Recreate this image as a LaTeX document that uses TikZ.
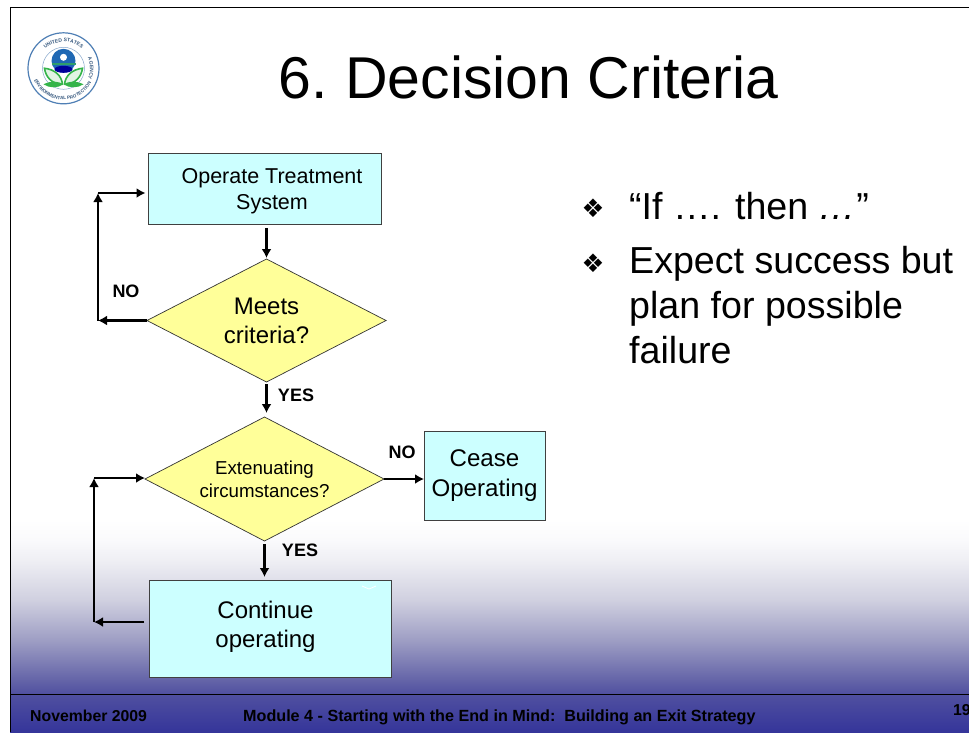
\documentclass[tikz,border=0pt]{standalone}
\usepackage{fontspec}
\setmainfont{Liberation Sans}
\newfontfamily\bulletfont{DejaVu Sans}
\usetikzlibrary{arrows.meta, shapes.geometric, decorations.text}

\definecolor{boxcyan}{HTML}{CCFFFF}
\definecolor{decisionyellow}{HTML}{FFFF99}
\definecolor{slideblue}{HTML}{35359A}
\definecolor{fadeA}{HTML}{5050A0}
\definecolor{fadeB}{HTML}{6464A8}
\definecolor{fadeC}{HTML}{9E9EC4}
\definecolor{fadeD}{HTML}{D0D0E0}
\definecolor{fadeE}{HTML}{EFEFF4}
\definecolor{fadeF}{HTML}{FAFAFC}
\definecolor{sealblue}{HTML}{1F68B4}
\definecolor{sealgreen}{HTML}{35B44A}
\definecolor{sealrim}{HTML}{4F7FB5}

\pgfdeclareverticalshading{slidefade}{100bp}{
	color(0bp)=(slideblue); color(25bp)=(slideblue); color(34bp)=(fadeA); color(37.25bp)=(fadeB);
	color(46.7bp)=(fadeC); color(56.15bp)=(fadeD); color(65.55bp)=(fadeE); color(70.3bp)=(fadeF); color(75bp)=(white); color(100bp)=(white)}

\tikzset{
	processbox/.style={rectangle, draw=black!75, line width=1pt, fill=boxcyan, inner sep=0pt, outer sep=0pt, align=center},
	decision/.style={diamond, shape aspect=1.93, draw=black!80, line width=0.7pt, fill=decisionyellow, inner sep=0pt, outer sep=0pt, align=center},
	flow/.style={-{Latex[length=9pt, width=10pt]}, line width=2.8pt},
	flowlabel/.style={font=\fontsize{18}{18}\selectfont\bfseries},
	footertext/.style={anchor=base west, inner sep=0pt, font=\fontsize{15.8}{18}\selectfont\bfseries},
	bullettext/.style={inner sep=0pt, align=left, font=\fontsize{37.6}{45}\selectfont},
	bulletmark/.style={font=\fontsize{25.5}{26}\selectfont\bulletfont},
	sealtext/.style={decorate, decoration={text along path, text align=center, text={#1}}}
}

\begin{document}
\begin{tikzpicture}[x=1pt, y=-1pt]
		\useasboundingbox (0, 0) rectangle (969, 732);

		% slide background
		\fill[white] (0, 0) rectangle (969, 732);
		\shade[shading=slidefade] (10, 520) rectangle (969, 732);
		\draw[line width=1pt] (969, 7) -- (10, 7) -- (10, 732);
		\draw[line width=1pt] (10, 694) -- (969, 694);

		% seal
		\begin{scope}[shift={(63.5, 68.3)}, y=1pt]
			\fill[white] (0, 0) circle (36);
			\draw[sealrim, line width=1.2pt] (0, 0) circle (35.5);
			\draw[sealrim!70, line width=0.5pt] (0, 0) circle (21);
			\fill[sealblue] (0, 7.5) circle (12);
			\fill[white] (0, 11) circle (3.5);
			\fill[sealgreen!70!sealblue] (-12, 5) rectangle (12, 3);
			\fill[blue!60!black] (0, -1) ellipse (9 and 3.5);
			\draw[sealgreen, line width=1.6pt, fill=sealgreen!15] (-1, -16) .. controls (-12, -16) and (-18, -8) .. (-19, 0) .. controls (-9, -1) and (-2, -7) .. (-1, -16);
			\draw[sealgreen, line width=1.6pt, fill=sealgreen!15] (1, -16) .. controls (12, -16) and (18, -8) .. (19, 0) .. controls (9, -1) and (2, -7) .. (1, -16);
			\fill[sealgreen] (-20, -16) .. controls (-12, -12) and (-5, -13) .. (0, -16) .. controls (-6, -20) and (-14, -20) .. (-20, -16);
			\fill[sealgreen] (20, -16) .. controls (12, -12) and (5, -13) .. (0, -16) .. controls (6, -20) and (14, -20) .. (20, -16);
			\path[sealtext={|\fontsize{5}{5}\selectfont\bfseries\color{sealrim!70!black}|UNITED STATES}] (150:26.5) arc (150:30:26.5);
			\path[sealtext={|\fontsize{5}{5}\selectfont\bfseries\color{sealrim!70!black}|AGENCY}] (30:26.5) arc (30:-30:26.5);
			\path[sealtext={|\fontsize{4.6}{5}\selectfont\bfseries\color{sealrim!70!black}|ENVIRONMENTAL PROTECTION}] (188:31.5) arc (188:346:31.5);
		\end{scope}

		% title and bullets
		\node[anchor=base west, inner sep=0pt, font=\fontsize{59}{59}\selectfont] (title) at (278, 98) {6.\kern-4pt{} Decision Criteria};
		\node[bulletmark] (mark1) at (593, 208) {❖};
		\node[bulletmark] (mark2) at (593, 263) {❖};
		\node[bullettext, anchor=base west] (item1) at (629, 219) {“If …. then \emph{…}”};
		\node[bullettext, anchor=north west] (item2) at (629, 246.5) {Expect success but\\plan for possible\\failure};

		% flow chart
		\node[processbox, minimum width=233, minimum height=71.5, font=\fontsize{21.5}{26}\selectfont] (operate) at (265, 189) {\hspace*{14pt}\rule{0pt}{20pt}Operate Treatment\\\hspace*{14pt}System};
		\node[decision, minimum width=239, minimum height=123, font=\fontsize{24}{29}\selectfont] (meets) at (266.5, 320.5) {Meets\\criteria?};
		\node[decision, minimum width=239, minimum height=124, font=\fontsize{18.7}{23}\selectfont] (extenuating) at (264.5, 479) {Extenuating\\circumstances?};
		\node[processbox, minimum width=121, minimum height=89, font=\fontsize{24.1}{30}\selectfont] (cease) at (484.5, 475.5) {Cease\\Operating};
		\node[processbox, minimum width=242, minimum height=97, font=\fontsize{24}{29}\selectfont] (continue) at (270, 628.5) {\hspace*{-9pt}Continue\\\hspace*{-9pt}operating\rule[-8pt]{0pt}{0pt}};
		\draw[white, line width=0.8pt] (362, 586) -- (369, 589) -- (376, 586);

		\coordinate (noLow) at (98, 320.5);
		\coordinate (noHigh) at (98, 193);
		\coordinate (backLow) at (94, 622);
		\coordinate (backHigh) at (94, 478);

		\draw[flow, shorten <=3pt, shorten >=1pt] (operate.south -| meets.north) -- (meets.north);
		\draw[flow, shorten <=2pt, shorten >=4pt] (meets.south) -- (meets.south |- extenuating.north);
		\draw[flow, shorten <=3pt, shorten >=3pt] (extenuating.south) -- (extenuating.south |- continue.north);
		\draw[flow] (extenuating.east) -- (extenuating.east -| cease.west);
		\draw[flow] (meets.west) -- (noLow);
		\draw[flow] (noLow) -- (noHigh);
		\draw[flow, shorten >=3pt] (noHigh) -- (noHigh -| operate.west);
		\draw[flow, shorten <=5pt] (backLow -| continue.west) -- (backLow);
		\draw[flow] (backLow) -- (backHigh);
		\draw[flow] (backHigh) -- (backHigh -| extenuating.west);

		\node[flowlabel] (labelNoMeets) at (126, 291) {NO};
		\node[flowlabel] (labelYesMeets) at (296, 395) {YES};
		\node[flowlabel] (labelNoCease) at (402, 452) {NO};
		\node[flowlabel] (labelYesCont) at (300, 550) {YES};

		% footer
		\node[footertext] (date) at (30, 721) {November 2009};
		\node[footertext, font=\fontsize{16.15}{18}\selectfont\bfseries] (module) at (243, 721) {Module 4 - Starting with the End in Mind:\ \ Building an Exit Strategy};
		\node[footertext] (page) at (953, 715) {19};
	\end{tikzpicture}
\end{document}
